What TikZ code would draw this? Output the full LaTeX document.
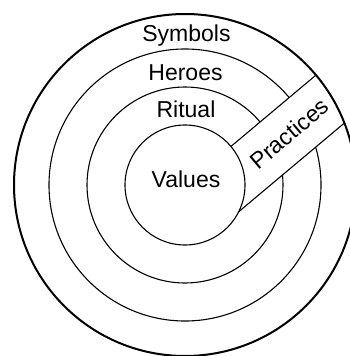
\documentclass[tikz,border=0pt]{standalone}
\usepackage{fontspec}
\setmainfont{Liberation Sans}
\begin{document}
\begin{tikzpicture}[x=1pt,y=1pt,
  ring/.style={draw=black, line width=1.1pt},
  outerring/.style={draw=black, line width=2pt},
  lbl/.style={font=\fontsize{23}{27}\selectfont, anchor=base, inner sep=0pt}]
\useasboundingbox (0,0) rectangle (350,-356);
\coordinate (C) at (185,-185);
\draw[ring] (C) circle (136);
\draw[ring] (C) circle (98);
\begin{scope}
  \clip (C) circle (171);
  \begin{scope}[shift={(C)}, rotate=40]
    \fill[white] (0,0) rectangle (200,-55);
    \draw[ring] (0,0) -- (200,0);
    \draw[ring] (0,-55) -- (200,-55);
    \node[font=\fontsize{23}{27}\selectfont, rotate=40, inner sep=0pt] (pra) at (113,-27.5) {Practices};
  \end{scope}
\end{scope}
\draw[ring, fill=white] (C) circle (60);
\draw[outerring] (C) circle (171);
\node[lbl] (sym) at (186.5,-41) {Symbols};
\node[lbl] (her) at (185.5,-80) {Heroes};
\node[lbl] (rit) at (186,-117) {Ritual};
\node[lbl] (val) at (186,-187) {Values};
\end{tikzpicture}
\end{document}
